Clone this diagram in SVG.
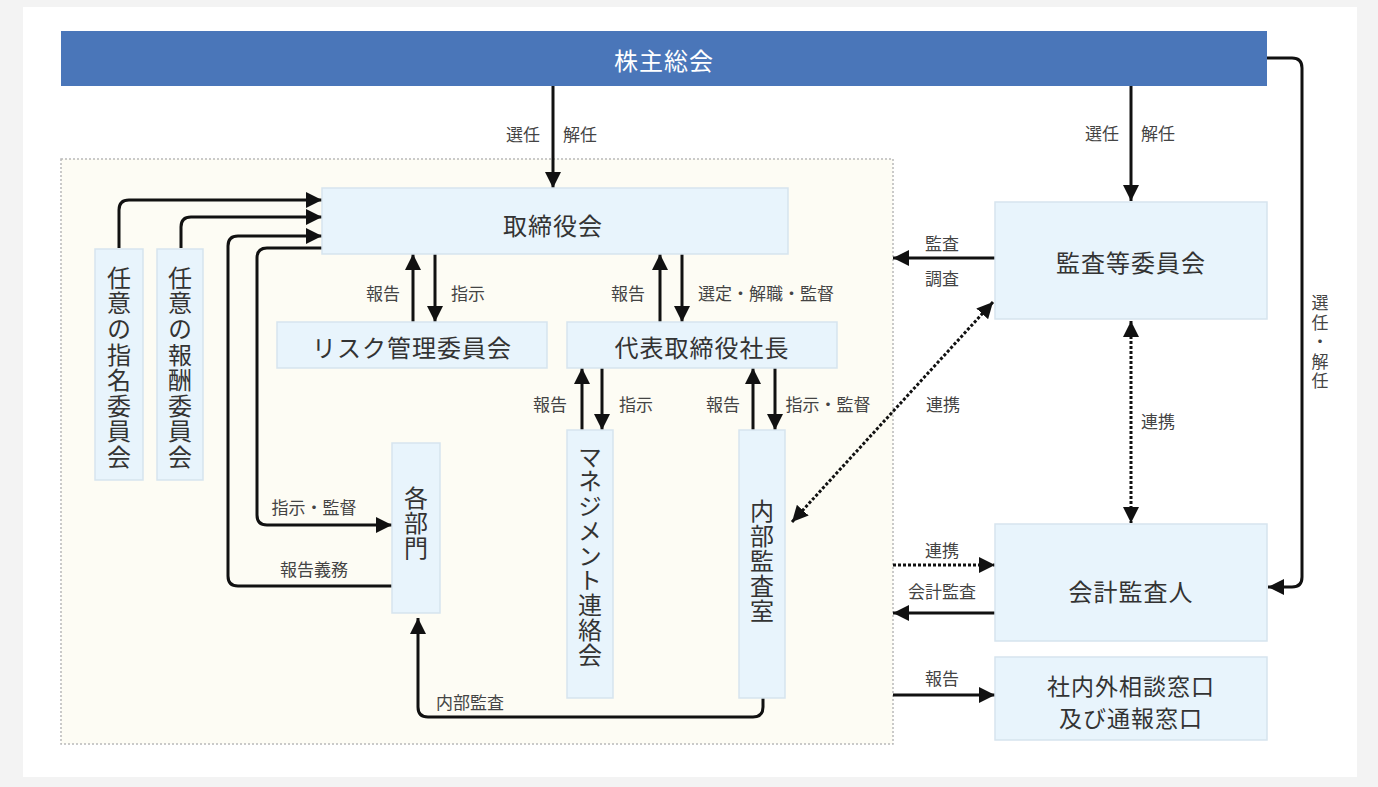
<svg xmlns="http://www.w3.org/2000/svg" width="1378" height="787" viewBox="0 0 1378 787">
<defs>
<style>
.node{fill:#e8f4fc;stroke:#d6e4ee;stroke-width:1.5}
.nt{font-family:"Noto Sans CJK JP","Noto Sans",sans-serif;font-size:24px;fill:#333;text-anchor:middle;dominant-baseline:central;letter-spacing:1px}
.vt{font-family:"Noto Sans CJK JP","Noto Sans",sans-serif;font-size:24px;fill:#333;text-anchor:middle;writing-mode:vertical-rl;text-orientation:upright}
.lb{font-family:"Noto Sans CJK JP","Noto Sans",sans-serif;font-size:17px;fill:#444;text-anchor:middle;dominant-baseline:central}
.vl{font-family:"Noto Sans CJK JP","Noto Sans",sans-serif;font-size:17px;fill:#444;text-anchor:middle;writing-mode:vertical-rl;text-orientation:upright;letter-spacing:2.5px}
.ln{fill:none;stroke:#111;stroke-width:3;marker-end:url(#ah)}
.dt{fill:none;stroke:#111;stroke-width:3;stroke-dasharray:3 2}
</style>
<marker id="ah" markerUnits="userSpaceOnUse" markerWidth="16" markerHeight="16" viewBox="0 0 14 14" refX="14" refY="7" orient="auto-start-reverse">
<path d="M0,0 L14,7 L0,14 z" fill="#111"/>
</marker>
</defs>
<rect x="0" y="0" width="1378" height="787" fill="#f3f3f3"/>
<rect x="23" y="7" width="1334" height="770" fill="#ffffff"/>
<rect id="internal-area" x="61" y="159" width="832" height="585" fill="#fdfcf4" stroke="#b9b9b9" stroke-width="1.5" stroke-dasharray="2 2"/>

<g id="connectors">
<path class="ln" d="M553,86 V188"/>
<path class="ln" d="M1131,86 V201"/>
<path class="ln" d="M1267,58 H1292 Q1302,58 1302,68 V577 Q1302,587 1292,587 H1268"/>
<path class="ln" d="M119,248 V210 Q119,200 129,200 H322"/>
<path class="ln" d="M181,248 V227 Q181,217 191,217 H322"/>
<path class="ln" d="M392,586 H238 Q228,586 228,576 V246 Q228,236 238,236 H322"/>
<path class="ln" d="M322,248 H267 Q257,248 257,258 V515 Q257,525 267,525 H392"/>
<path class="ln" d="M413,322 V254"/>
<path class="ln" d="M435,254 V322"/>
<path class="ln" d="M660,322 V254"/>
<path class="ln" d="M682,254 V322"/>
<path class="ln" d="M582,430 V368"/>
<path class="ln" d="M602,368 V430"/>
<path class="ln" d="M753,430 V368"/>
<path class="ln" d="M775,368 V430"/>
<path class="ln" d="M763,698 V707 Q763,717 753,717 H428 Q418,717 418,707 V618"/>
<path class="ln" d="M995,258 H893"/>
<path class="dt" d="M792,522 L993,302" marker-start="url(#ah)" marker-end="url(#ah)"/>
<path class="dt" d="M1131,321 V523" marker-start="url(#ah)" marker-end="url(#ah)"/>
<path class="dt" d="M893,565 H995" marker-end="url(#ah)"/>
<path class="ln" d="M995,613 H893"/>
<path class="ln" d="M893,695 H995"/>
</g>

<g id="labels">
<text class="lb" x="523" y="133">選任</text>
<text class="lb" x="580" y="133">解任</text>
<text class="lb" x="1102" y="132">選任</text>
<text class="lb" x="1158" y="132">解任</text>
<text class="vl" x="1320" y="343">選任・解任</text>
<text class="lb" x="383" y="292">報告</text>
<text class="lb" x="468" y="292">指示</text>
<text class="lb" x="628" y="292">報告</text>
<text class="lb" x="766" y="292">選定・解職・監督</text>
<text class="lb" x="550" y="403">報告</text>
<text class="lb" x="636" y="403">指示</text>
<text class="lb" x="723" y="403">報告</text>
<text class="lb" x="828" y="403">指示・監督</text>
<text class="lb" x="314" y="506">指示・監督</text>
<text class="lb" x="314" y="568">報告義務</text>
<text class="lb" x="470" y="701">内部監査</text>
<text class="lb" x="942" y="242">監査</text>
<text class="lb" x="942" y="277">調査</text>
<text class="lb" x="943" y="403">連携</text>
<text class="lb" x="1158" y="420">連携</text>
<text class="lb" x="942" y="549">連携</text>
<text class="lb" x="942" y="590">会計監査</text>
<text class="lb" x="942" y="677">報告</text>
</g>

<g id="shareholders">
<rect x="61" y="31" width="1206" height="55" fill="#4a76b9"/>
<text class="nt" x="664" y="59" style="fill:#ffffff">株主総会</text>
</g>
<g id="board">
<rect class="node" x="322" y="188" width="466" height="66"/>
<text class="nt" x="553" y="224">取締役会</text>
</g>
<g id="nomination">
<rect class="node" x="95" y="249" width="48" height="231"/>
<text class="vt" x="119" y="368" style="letter-spacing:1.6px">任意の指名委員会</text>
</g>
<g id="compensation">
<rect class="node" x="157" y="249" width="46" height="231"/>
<text class="vt" x="180" y="368" style="letter-spacing:1.6px">任意の報酬委員会</text>
</g>
<g id="risk">
<rect class="node" x="277" y="322" width="270" height="46"/>
<text class="nt" x="412" y="346">リスク管理委員会</text>
</g>
<g id="president">
<rect class="node" x="567" y="322" width="270" height="46"/>
<text class="nt" x="702" y="346">代表取締役社長</text>
</g>
<g id="departments">
<rect class="node" x="392" y="443" width="48" height="170"/>
<text class="vt" x="416" y="523" style="letter-spacing:1px">各部門</text>
</g>
<g id="management">
<rect class="node" x="567" y="430" width="46" height="268"/>
<text class="vt" x="590" y="556" style="letter-spacing:0.75px">マネジメント連絡会</text>
</g>
<g id="internal-audit">
<rect class="node" x="739" y="430" width="46" height="268"/>
<text class="vt" x="762" y="561" style="letter-spacing:1px">内部監査室</text>
</g>
<g id="audit-committee">
<rect class="node" x="995" y="202" width="272" height="117"/>
<text class="nt" x="1131" y="261">監査等委員会</text>
</g>
<g id="accounting-auditor">
<rect class="node" x="995" y="524" width="272" height="117"/>
<text class="nt" x="1131" y="590">会計監査人</text>
</g>
<g id="hotline">
<rect class="node" x="995" y="657" width="272" height="83"/>
<text class="nt" x="1131" y="685" style="font-size:23px"><tspan x="1131" y="685">社内外相談窓口</tspan><tspan x="1131" y="717">及び通報窓口</tspan></text>
</g>
</svg>
